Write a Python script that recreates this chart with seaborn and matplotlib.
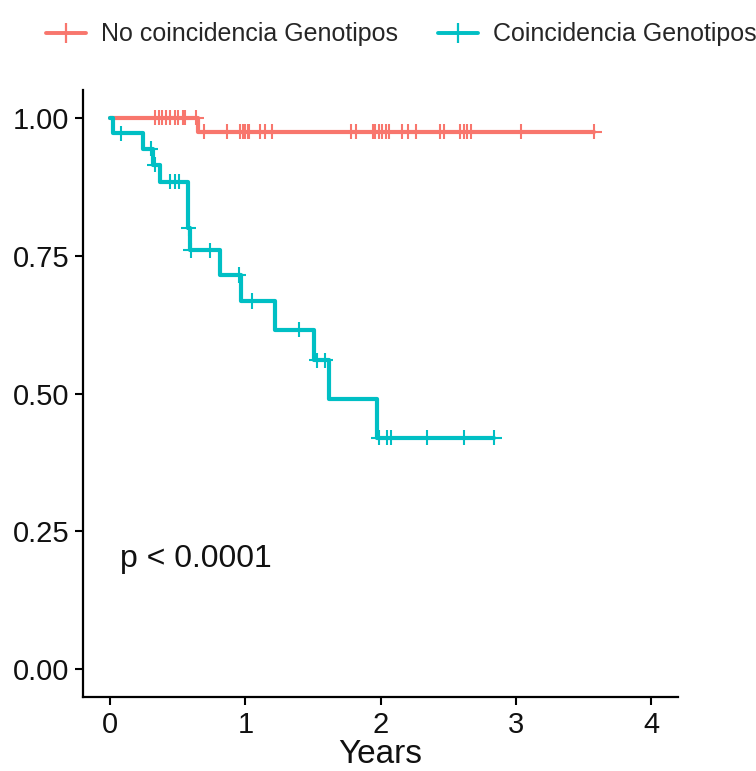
import numpy as np
import pandas as pd
import seaborn as sns
import matplotlib.pyplot as plt
from matplotlib.lines import Line2D

# Kaplan-Meier steps
groups = ['No coincidencia Genotipos', 'Coincidencia Genotipos']
colors = ['#F8766D', '#00BFC4']

no_event_times = [0.65]
no_event_surv = [0.975]
no_censor = [0.333, 0.358, 0.383, 0.415, 0.444, 0.481, 0.504, 0.539, 0.556, 0.637,
             0.696, 0.864, 0.963, 0.983, 1.0, 1.017, 1.03, 1.11, 1.148, 1.197,
             1.78, 1.815, 1.94, 1.96, 1.99, 2.01, 2.04, 2.06, 2.16, 2.20, 2.26,
             2.44, 2.47, 2.59, 2.62, 2.64, 2.67, 3.04, 3.58]

co_event_times = [0.02, 0.24, 0.32, 0.37, 0.575, 0.59, 0.81, 0.968, 1.222, 1.51, 1.617, 1.975]
co_event_surv = [0.972, 0.944, 0.915, 0.884, 0.80, 0.76, 0.715, 0.668, 0.616, 0.56, 0.49, 0.42]
co_censor = [0.08, 0.30, 0.33, 0.44, 0.48, 0.51, 0.58, 0.595, 0.735, 0.95, 1.05,
             1.395, 1.526, 1.59, 1.985, 2.044, 2.079, 2.34, 2.62, 2.84]


def km_frames(name, ev_t, ev_s, cens):
    t = np.r_[0.0, ev_t, max(cens)]
    s = np.r_[1.0, ev_s, ev_s[-1]]
    steps = pd.DataFrame({'time': t, 'surv': s, 'group': name})
    idx = np.searchsorted(t, cens, side='right') - 1
    marks = pd.DataFrame({'time': cens, 'surv': s[idx], 'group': name})
    return steps, marks


s1, m1 = km_frames(groups[0], no_event_times, no_event_surv, no_censor)
s2, m2 = km_frames(groups[1], co_event_times, co_event_surv, co_censor)
steps = pd.concat([s1, s2])
marks = pd.concat([m1, m2])

sns.set_style('white')
plt.rcParams['font.family'] = ['Liberation Sans', 'DejaVu Sans']

fig = plt.figure(figsize=(7.56, 7.71), dpi=100)
ax = fig.add_axes([0.110, 0.096, 0.787, 0.787])

pal = dict(zip(groups, colors))
sns.lineplot(data=steps, x='time', y='surv', hue='group', palette=pal,
             drawstyle='steps-post', estimator=None, linewidth=3.0,
             legend=False, ax=ax)
sns.scatterplot(data=marks, x='time', y='surv', hue='group', palette=pal,
                marker='+', s=120, linewidth=1.5, legend=False, ax=ax, zorder=3)

ax.set_xlim(-0.2, 4.2)
ax.set_ylim(-0.05, 1.05)
ax.set_xticks([0, 1, 2, 3, 4])
ax.set_yticks([0, 0.25, 0.5, 0.75, 1.0])
ax.set_yticklabels(['0.00', '0.25', '0.50', '0.75', '1.00'])
ax.tick_params(bottom=True, left=True, labelsize=21, length=6, width=1.5,
               pad=4, color='black', labelcolor='#111111')
ax.set_xlabel('Years', fontsize=24, color='#111111', labelpad=0)
ax.set_ylabel('')
for side in ['top', 'right']:
    ax.spines[side].set_visible(False)
for side in ['left', 'bottom']:
    ax.spines[side].set_linewidth(1.6)
    ax.spines[side].set_color('black')

ax.text(0.07, 0.20, 'p < 0.0001', fontsize=23, color='#111111', va='center')

handles = [Line2D([], [], color=c, marker='+', markersize=14, mew=1.6, lw=2.8)
           for c in colors]
fig.legend(handles, groups, loc='upper center', bbox_to_anchor=(0.531, 1.0),
           ncol=2, frameon=False, fontsize=18, handlelength=1.6,
           handletextpad=0.6, columnspacing=1.6)

fig.savefig('out.png', dpi=100)
